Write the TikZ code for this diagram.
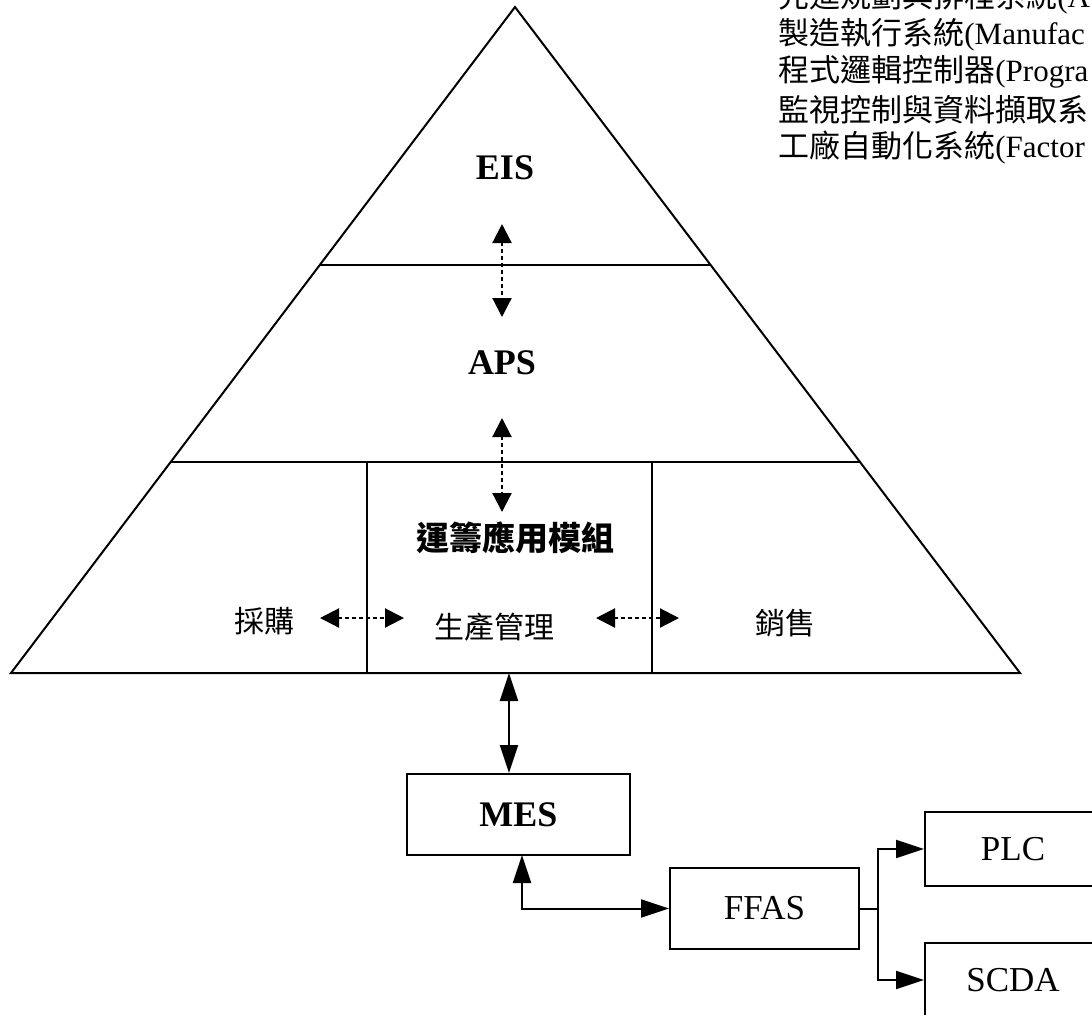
\documentclass[tikz,border=0pt]{standalone}
\usepackage{fontspec}
\setmainfont{Liberation Serif}
\newfontfamily\cjk{Noto Sans CJK TC}
\usetikzlibrary{arrows.meta,calc}
\begin{document}
\begin{tikzpicture}[x=0.5pt,y=-0.5pt,
  ln/.style={line width=1pt, line join=miter},
  boxnode/.style={draw,line width=1pt,inner sep=0pt,minimum width=#1,minimum height=40.5pt},
  dasharr/.style={line width=1.1pt,dash pattern=on 2pt off 1.5pt,
     {Triangle[width=9.5pt,length=9.5pt]}-{Triangle[width=9.5pt,length=9.5pt]}},
  solidarr/.style={line width=1pt,-{Triangle[width=9pt,length=14pt]}},
  latlab/.style={font=\fontsize{17.5pt}{20pt}\selectfont},
  boldlab/.style={font=\fontsize{18pt}{20pt}\selectfont\bfseries},
  cjklab/.style={font=\cjk\fontsize{15pt}{18pt}\selectfont},
  toptext/.style={anchor=west,inner sep=0pt,font=\fontsize{15.5pt}{18pt}\selectfont}
]
\useasboundingbox (0,0) rectangle (1092,1014);
\clip (0,0) rectangle (1092,1014);

% pyramid
\coordinate (apex) at (515,7);
\coordinate (bl) at (11,673);
\coordinate (br) at (1020,673);
\draw[ln] (apex) -- (bl) -- (br) -- cycle;
\draw[ln] ($(apex)!{(265-7)/666}!(bl)$) -- ($(apex)!{(265-7)/666}!(br)$);
\draw[ln] ($(apex)!{(462-7)/666}!(bl)$) -- ($(apex)!{(462-7)/666}!(br)$);
\draw[ln] (367,462) -- (367,673);
\draw[ln] (652,462) -- (652,673);

% labels
\node[boldlab] (eis) at (505,168) {EIS};
\node[boldlab] (aps) at (502,363) {APS};
\node[cjklab,font=\cjk\fontsize{16.5pt}{18pt}\selectfont\bfseries] (ops) at (515,538) {運籌應用模組};
\node[cjklab] (buy) at (264,621) {採購};
\node[cjklab] (prod) at (494,627) {生產管理};
\node[cjklab] (sell) at (785,623) {銷售};

% dashed arrows
\coordinate (d1a) at (502,224);
\coordinate (d1b) at (502,317);
\coordinate (d2a) at (502,418);
\coordinate (d2b) at (502,512);
\draw[dasharr] (d1a) -- (d1b);
\draw[dasharr] (d2a) -- (d2b);
\coordinate (h1a) at (320,618);
\coordinate (h1b) at (404,618);
\coordinate (h2a) at (596,618);
\coordinate (h2b) at (679,618);
\draw[dasharr] (h1a) -- (h1b);
\draw[dasharr] (h2a) -- (h2b);

% boxes
\node[boxnode=111.5pt,boldlab] (mes) at (518.5,814.5) {MES};
\node[boxnode=94.5pt,latlab] (ffas) at (764.5,908.5) {FFAS};
\node[boxnode=88pt,minimum height=37pt,latlab] (plc) at (1013,849) {PLC};
\node[boxnode=88pt,minimum height=37pt,latlab] (scda) at (1013,980) {SCDA};

% solid arrows
\coordinate (base) at (509,673);
\draw[line width=1pt,{Triangle[width=9pt,length=14pt]}-{Triangle[width=9pt,length=14pt]}]
  (base) -- (base |- mes.north);
\coordinate (mesout) at (522,855);
\draw[line width=1pt,{Triangle[width=9pt,length=14pt]}-{Triangle[width=9pt,length=14pt]}]
  (mesout) |- (ffas.west);
\coordinate (br1) at (878,908.5);
\draw[ln] (ffas.east) -- (br1);
\draw[solidarr] (br1) |- (plc.west);
\draw[solidarr] (br1) |- (scda.west);

% top-right text
\node[toptext] (t1) at (778,-2) {{\cjk 先進規劃與排程系統}(A};
\node[toptext] (t2) at (778,35) {{\cjk 製造執行系統}(Manufac};
\node[toptext] (t3) at (778,72) {{\cjk 程式邏輯控制器}(Progra};
\node[toptext] (t4) at (778,110) {{\cjk 監視控制與資料擷取系}};
\node[toptext] (t5) at (778,147) {{\cjk 工廠自動化系統}(Factor};
\end{tikzpicture}
\end{document}
